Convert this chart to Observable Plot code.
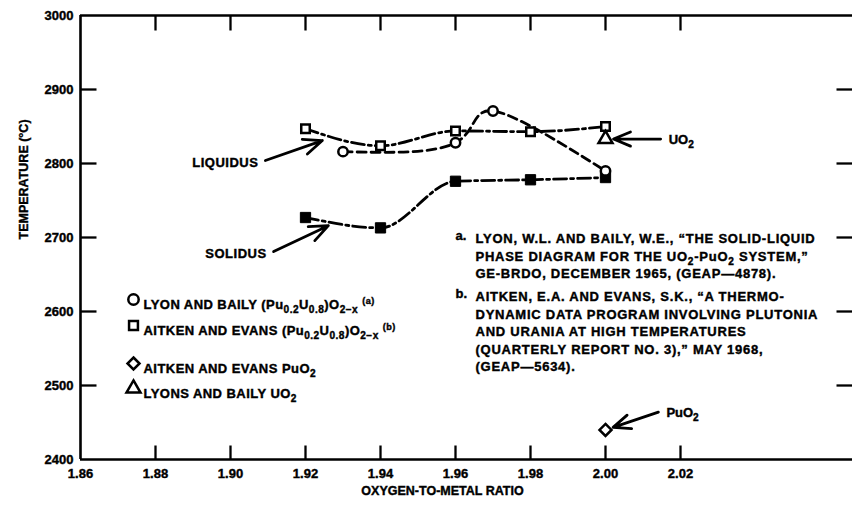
<!DOCTYPE html>
<html>
<head>
<meta charset="utf-8">
<script src="https://cdn.jsdelivr.net/npm/d3@7"></script>
<script src="https://cdn.jsdelivr.net/npm/@observablehq/plot@0.6"></script>
<style>
  html, body { margin: 0; padding: 0; background: #fff; }
  #chart { width: 852px; height: 516px; }
  #chart svg text { stroke: #000; stroke-width: 0.4px; }
</style>
</head>
<body>
<div id="chart"></div>
<script>
// Axis ticks
const xTickLabels = [1.86, 1.88, 1.90, 1.92, 1.94, 1.96, 1.98, 2.00, 2.02];
const xTickMarks = [1.88, 1.90, 1.92, 1.94, 1.96, 1.98, 2.00, 2.02];
const yTickLabels = [2400, 2500, 2600, 2700, 2800, 2900, 3000];
const yTickMarks = [2500, 2600, 2700, 2800, 2900];

// Lyon and Baily (Pu0.2U0.8)O2-x liquidus
const lyonRatio = [1.93, 1.96, 1.97, 2.00];
const lyonLiquidus = [2816, 2828, 2871, 2790];

// Aitken and Evans (Pu0.2U0.8)O2-x liquidus and solidus
const aitkenRatio = [1.92, 1.94, 1.96, 1.98, 2.00];
const aitkenLiquidus = [2847, 2824, 2844, 2843, 2850];
const aitkenSolidus = [2727, 2713, 2776, 2778, 2781];

// Melting points of the pure oxides
const puo2Ratio = [2.00];
const puo2Melting = [2440];
const uo2Ratio = [2.00];
const uo2Melting = [2833];

// Legend entries ("_{..}" subscript, "^{..}" superscript)
const legendLabels = [
  "LYON AND BAILY (Pu_{0.2}U_{0.8})O_{2−x} ^{(a)}",
  "AITKEN AND EVANS (Pu_{0.2}U_{0.8})O_{2−x} ^{(b)}",
  "AITKEN AND EVANS PuO_{2}",
  "LYONS AND BAILY UO_{2}"
];
const legendSymbols = ["circle", "square", "diamond2", "triangle"];

// Literature references
const refKeys = ["a.", "b."];
const refTexts = [
  "LYON, W.L. AND BAILY, W.E., “THE SOLID-LIQUID\nPHASE DIAGRAM FOR THE UO_{2}-PuO_{2} SYSTEM,”\nGE-BRDO, DECEMBER 1965, (GEAP—4878).",
  "AITKEN, E.A. AND EVANS, S.K., “A THERMO-\nDYNAMIC DATA PROGRAM INVOLVING PLUTONIA\nAND URANIA AT HIGH TEMPERATURES\n(QUARTERLY REPORT NO. 3),” MAY 1968,\n(GEAP—5634)."
];

// Callout labels: text, arrow tail (ratio, temp), arrow head (ratio, temp)
const curveCallouts = [
  {label: "LIQUIDUS", x1: 1.9093, y1: 2804, x2: 1.9245, y2: 2831},
  {label: "SOLIDUS", x1: 1.9115, y1: 2681, x2: 1.9261, y2: 2716}
];
const oxideCallouts = [
  {label: "UO_{2}", x1: 2.0147, y1: 2833, x2: uo2Ratio[0], y2: uo2Melting[0]},
  {label: "PuO_{2}", x1: 2.0141, y1: 2464, x2: puo2Ratio[0], y2: puo2Melting[0]}
];

const W = 852, H = 516;
const mL = 80, mR = 0, mT = 15, mB = 57;
const frameW = W - mL - mR, frameH = H - mT - mB;
const xMin = 1.86, xMax = 1.86 + frameW / 3750;
const yMin = 2400, yMax = 3000;
const pxX = (xMax - xMin) / frameW;   // ratio units per pixel
const pxY = (yMax - yMin) / frameH;   // degrees per pixel
const ink = "#000";
const font = "'Liberation Sans', Arial, Helvetica, sans-serif";

const lyonRows = lyonRatio.map((r, i) => ({ratio: r, temp: lyonLiquidus[i]}));
const liqRows = aitkenRatio.map((r, i) => ({ratio: r, temp: aitkenLiquidus[i]}));
const solRows = aitkenRatio.map((r, i) => ({ratio: r, temp: aitkenSolidus[i]}));
const puo2Rows = puo2Ratio.map((r, i) => ({ratio: r, temp: puo2Melting[i]}));
const uo2Rows = uo2Ratio.map((r, i) => ({ratio: r, temp: uo2Melting[i]}));

const legendRowDy = [284, 310, 348, 373];
const refDy = [215, 273];

const legendMarks = legendLabels.flatMap((label, i) => [
  Plot.dot([label], {
    frameAnchor: "top-left", dx: 53, dy: legendRowDy[i],
    symbol: legendSymbols[i], r: i === 1 ? 5 : i === 2 ? 5.4 : 5.2,
    fill: "white", stroke: ink, strokeWidth: 2.5
  }),
  Plot.text([label], {
    frameAnchor: "top-left", dx: 63, dy: legendRowDy[i], className: "legend-text",
    text: d => d, textAnchor: "start", fontSize: 13
  })
]);

const refMarks = refTexts.flatMap((t, i) => [
  Plot.text([refKeys[i]], {
    frameAnchor: "top-left", dx: 375, dy: refDy[i], text: d => d,
    textAnchor: "start", lineAnchor: "top", fontSize: 13
  }),
  Plot.text([t], {
    frameAnchor: "top-left", dx: 395, dy: refDy[i], text: d => d, className: "ref-text",
    textAnchor: "start", lineAnchor: "top", lineHeight: 1.35, fontSize: 13
  })
]);

const tickStyle = {stroke: ink, strokeWidth: 2.3, strokeLinecap: "butt"};

const chart = Plot.plot({
  width: W, height: H,
  marginLeft: mL, marginRight: mR, marginTop: mT, marginBottom: mB,
  style: {fontFamily: font, fontWeight: "bold", fontSize: "13px", color: ink, background: "white"},
  x: {domain: [xMin, xMax]},
  y: {domain: [yMin, yMax]},
  marks: [
    // tick labels
    Plot.axisX(xTickLabels, {anchor: "bottom", tickSize: 0, tickPadding: 9, tickFormat: d3.format(".2f"), label: null, fontSize: 13}),
    Plot.axisY(yTickLabels, {anchor: "left", tickSize: 0, tickPadding: 7, tickFormat: d3.format("d"), label: null, fontSize: 13}),

    // axis titles
    Plot.text(["OXYGEN-TO-METAL RATIO"], {frameAnchor: "bottom", dx: -24, dy: 35, text: d => d, fontSize: 12.5}),
    Plot.text(["TEMPERATURE (°C)"], {frameAnchor: "left", dx: -57, dy: 2, rotate: -90, text: d => d, fontSize: 12.5}),

    // curves
    Plot.line(lyonRows, {x: "ratio", y: "temp", curve: "natural", stroke: ink, strokeWidth: 2.8, strokeDasharray: "9,5"}),
    Plot.line(liqRows, {x: "ratio", y: "temp", curve: "monotone-x", stroke: ink, strokeWidth: 2.8, strokeDasharray: "13,4,3,4"}),
    Plot.line(solRows, {x: "ratio", y: "temp", curve: "monotone-x", stroke: ink, strokeWidth: 2.8, strokeDasharray: "13,4,3,4"}),

    // callout arrows
    Plot.arrow(curveCallouts, {x1: "x1", y1: "y1", x2: "x2", y2: "y2", stroke: ink, strokeWidth: 2.8, headLength: 11, headAngle: 45}),
    Plot.arrow(oxideCallouts, {x1: "x1", y1: "y1", x2: "x2", y2: "y2", stroke: ink, strokeWidth: 2.8, headLength: 11, headAngle: 45, insetEnd: 8}),

    // data points
    Plot.dot(solRows, {x: "ratio", y: "temp", symbol: "square", r: 5.8, fill: ink, stroke: ink, strokeWidth: 1}),
    Plot.dot(liqRows, {x: "ratio", y: "temp", symbol: "square", r: 4.8, fill: "white", stroke: ink, strokeWidth: 2.5}),
    Plot.dot(lyonRows, {x: "ratio", y: "temp", symbol: "circle", r: 4.7, fill: "white", stroke: ink, strokeWidth: 2.5}),
    Plot.dot(uo2Rows, {x: "ratio", y: "temp", symbol: "triangle", r: 5.2, fill: "white", stroke: ink, strokeWidth: 2.5}),
    Plot.dot(puo2Rows, {x: "ratio", y: "temp", symbol: "diamond2", r: 5.4, fill: "white", stroke: ink, strokeWidth: 2.5}),

    // callout labels
    Plot.text(curveCallouts, {x: "x1", y: "y1", text: "label", textAnchor: "end", dx: -7, dy: 2, fontSize: 13, className: "callout-text"}),
    Plot.text(oxideCallouts, {x: "x1", y: "y1", text: "label", textAnchor: "start", dx: 8, dy: 1, fontSize: 13}),

    ...legendMarks,
    ...refMarks,

    // frame lines: left, bottom, top
    Plot.ruleX([xMin], {stroke: ink, strokeWidth: 2.6}),
    Plot.ruleY([yMin], {stroke: ink, strokeWidth: 2.6}),
    Plot.ruleY([yMax], {stroke: ink, strokeWidth: 2.6}),

    // inward tick marks on all four sides
    Plot.link(xTickMarks, {x1: d => d, x2: d => d, y1: yMin, y2: yMin + 14 * pxY, ...tickStyle}),
    Plot.link(xTickMarks, {x1: d => d, x2: d => d, y1: yMax, y2: yMax - 15 * pxY, ...tickStyle}),
    Plot.link(yTickMarks, {y1: d => d, y2: d => d, x1: xMin, x2: xMin + 16 * pxX, ...tickStyle}),
    Plot.link(yTickMarks, {y1: d => d, y2: d => d, x1: xMax - 16 * pxX, x2: xMax, ...tickStyle})
  ]
});

// Turn "_{..}" and "^{..}" into shifted, smaller tspans
function richText(svg) {
  const ns = "http://www.w3.org/2000/svg";
  const leaves = [...svg.querySelectorAll("text, tspan")]
    .filter(el => el.children.length === 0 && /[_^]\{/.test(el.textContent));
  for (const el of leaves) {
    const s = el.textContent;
    el.textContent = "";
    const re = /([_^])\{([^}]*)\}/g;
    let last = 0, m;
    while ((m = re.exec(s))) {
      if (m.index > last) el.appendChild(document.createTextNode(s.slice(last, m.index)));
      const t = document.createElementNS(ns, "tspan");
      t.setAttribute("baseline-shift", m[1] === "_" ? "-4" : "5");
      t.style.fontSize = m[1] === "_" ? "78%" : "70%";
      t.textContent = m[2];
      el.appendChild(t);
      last = re.lastIndex;
    }
    if (last < s.length) el.appendChild(document.createTextNode(s.slice(last)));
  }
}
richText(chart);

// Wider tracking for the printed note blocks
const tracking = {"ref-text": "0.75px", "legend-text": "0.45px", "callout-text": "0.5px"};
for (const [name, ls] of Object.entries(tracking)) {
  chart.querySelectorAll(`g.${name}`).forEach(g => { g.style.letterSpacing = ls; });
}

document.getElementById("chart").appendChild(chart);
</script>
</body>
</html>
